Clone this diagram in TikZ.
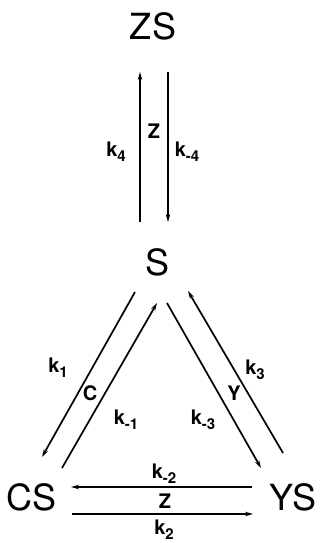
\documentclass[tikz,border=0pt]{standalone}
\usepackage{fontspec}
\setmainfont{TeX Gyre Heros}
\usetikzlibrary{arrows.meta}
\newcommand{\ksub}[1]{k\raisebox{-0.5ex}{\fontsize{15}{15}\selectfont #1}}
\tikzset{
  species/.style={font=\fontsize{36}{36}\selectfont, inner sep=0pt},
  rate/.style={font=\bfseries\fontsize{20}{20}\selectfont, inner sep=0pt},
  arr/.style={line width=1.7pt, -{Stealth[length=8pt,width=4.5pt]}}
}
\begin{document}
\begin{tikzpicture}[x=1pt,y=-1pt]
\useasboundingbox[fill=white] (0,0) rectangle (320,543);
% species
\node[species] (ZS) at (153,26) {Z\kern1.5pt S};
\node[species] (S) at (158,262) {S};
\node[species] (CS) at (32,497) {CS};
\node[species] (YS) at (293,497) {YS};
% endpoints
\coordinate (a1) at (140,222); \coordinate (a2) at (140,72);
\coordinate (b1) at (168,72);  \coordinate (b2) at (168,222);
\coordinate (c1) at (135,292); \coordinate (c2) at (42,457);
\coordinate (d1) at (62,468);  \coordinate (d2) at (157,303);
\coordinate (e1) at (167,303); \coordinate (e2) at (261,468);
\coordinate (f1) at (283,453); \coordinate (f2) at (188,291);
\coordinate (g1) at (252,487); \coordinate (g2) at (71,487);
\coordinate (h1) at (72,514);  \coordinate (h2) at (253,514);
% arrows
\draw[arr] (a1) -- (a2);
\draw[arr] (b1) -- (b2);
\draw[arr] (c1) -- (c2);
\draw[arr] (d1) -- (d2);
\draw[arr] (e1) -- (e2);
\draw[arr] (f1) -- (f2);
\draw[arr] (g1) -- (g2);
\draw[arr] (h1) -- (h2);
% labels
\node[rate] (k4) at (116,152) {\ksub{4}};
\node[rate] (z1) at (154,131) {Z};
\node[rate] (km4) at (187,152) {\ksub{-4}};
\node[rate] (k1) at (58,368) {\ksub{1}};
\node[rate] (c) at (90,393) {C};
\node[rate] (km1) at (126,420) {\ksub{-1}};
\node[rate] (km3) at (203,420) {\ksub{-3}};
\node[rate] (y) at (234,393) {Y};
\node[rate] (k3) at (255,370) {\ksub{3}};
\node[rate] (km2) at (164,474) {\ksub{-2}};
\node[rate] (z2) at (165,501) {Z};
\node[rate] (k2) at (164,530) {\ksub{2}};
\end{tikzpicture}
\end{document}
